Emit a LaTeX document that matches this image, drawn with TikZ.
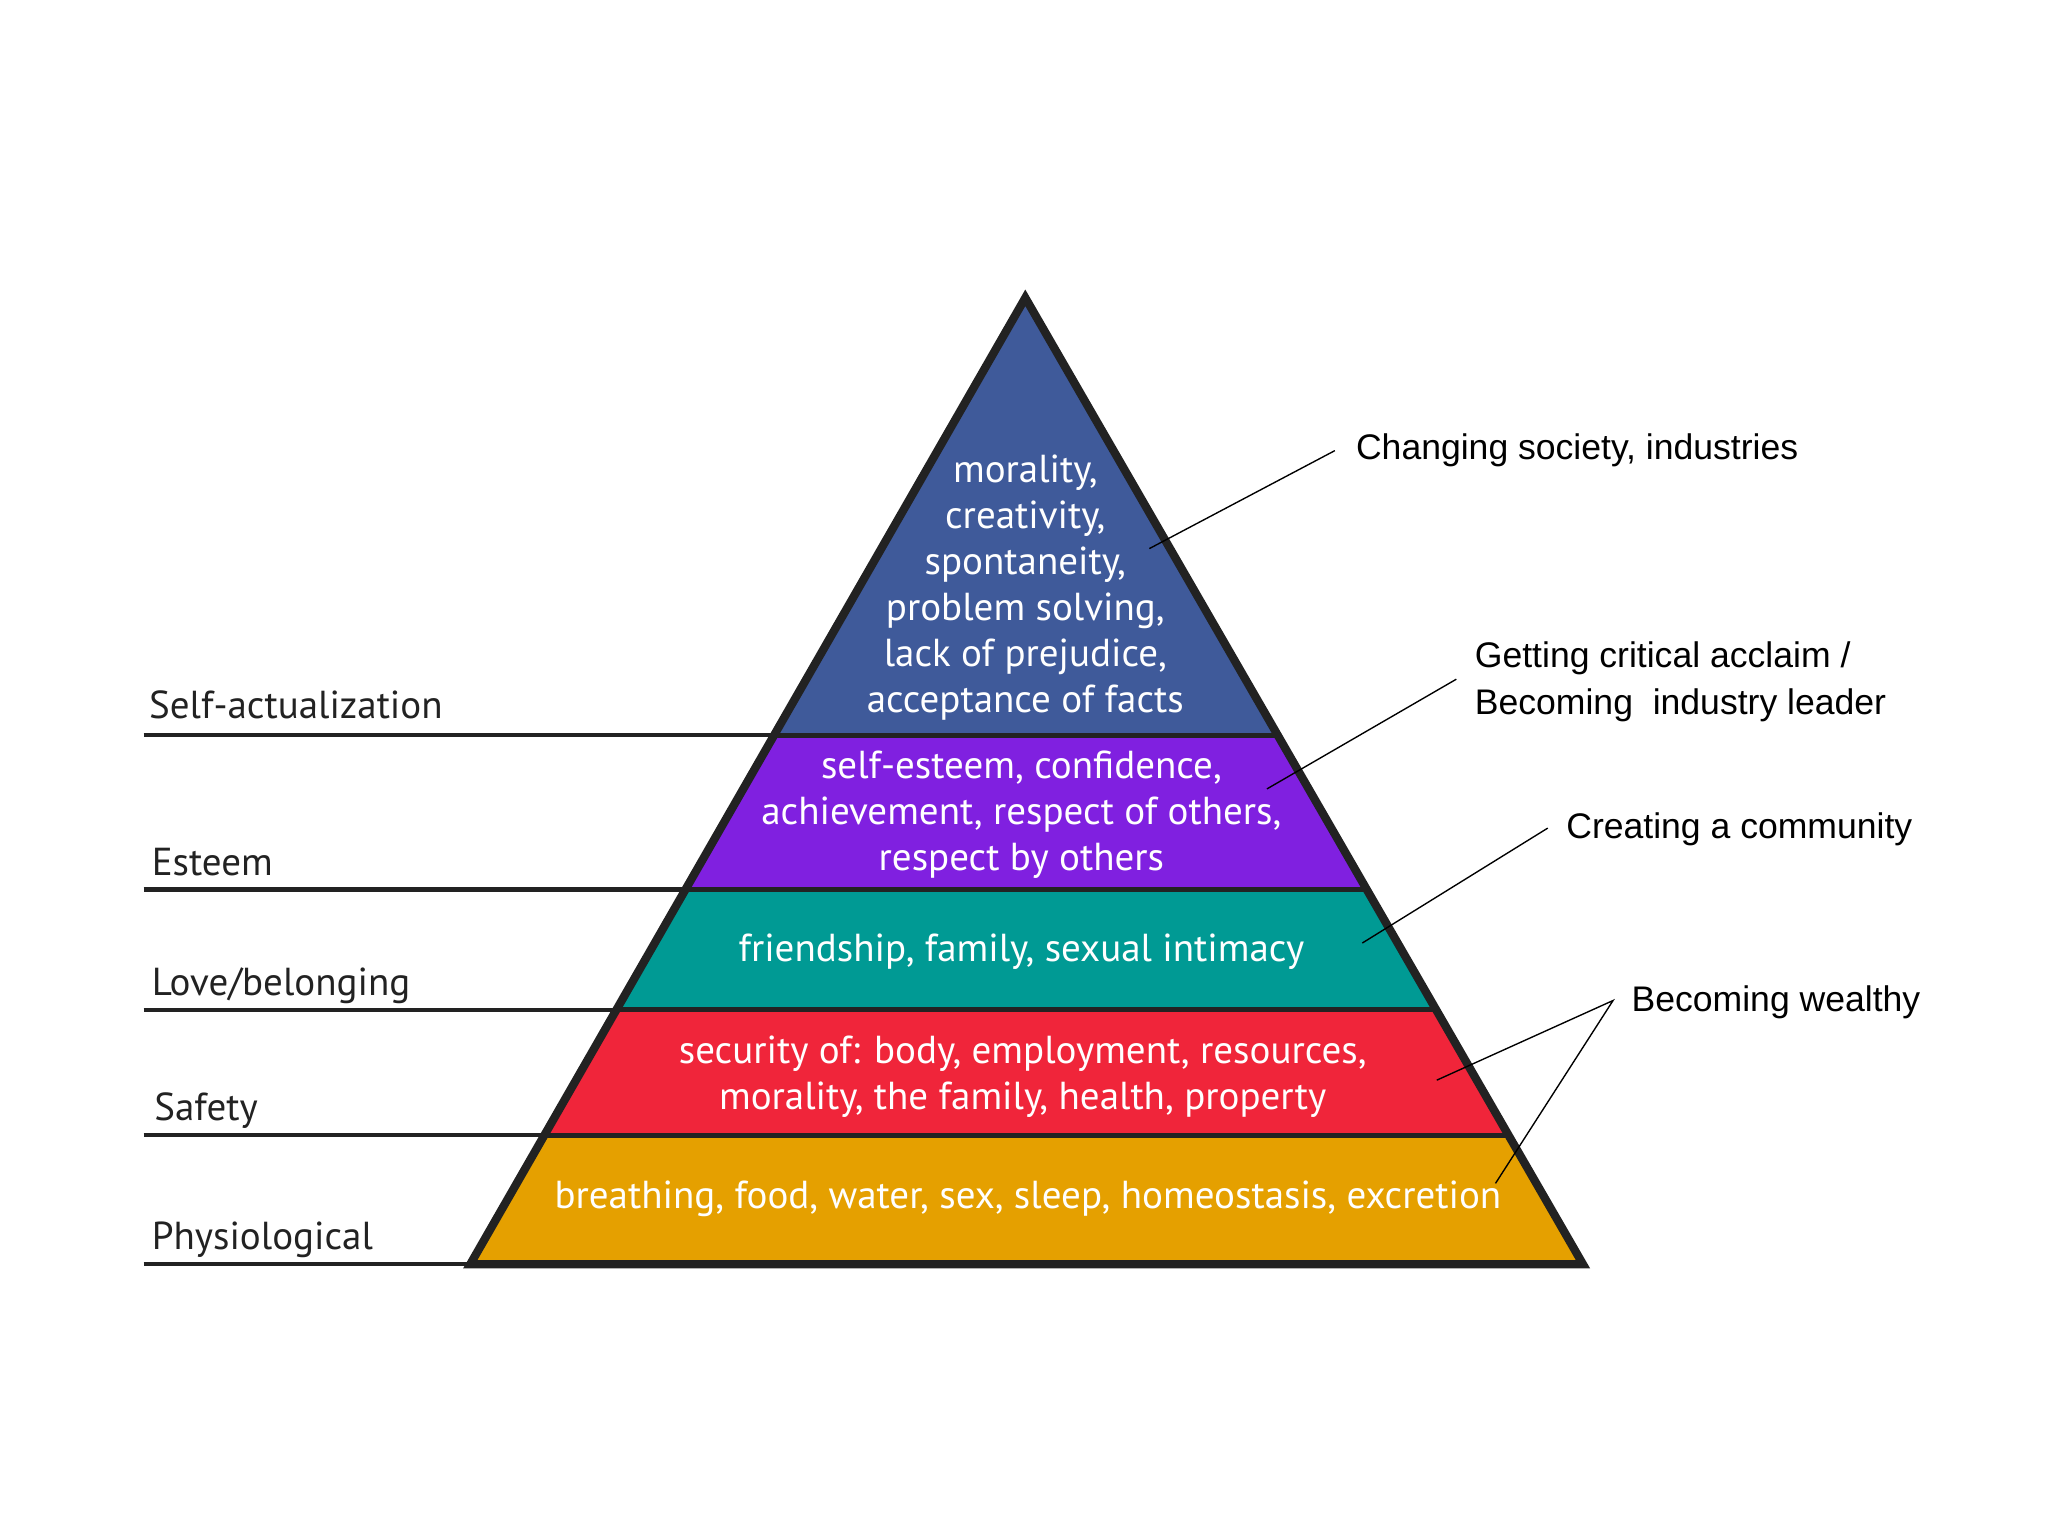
\documentclass[tikz,border=0pt]{standalone}
\usepackage{fontspec}
\setmainfont{Liberation Sans}
\newfontfamily\pyr{PT Sans}
\definecolor{cblue}{HTML}{3F5A9A}
\definecolor{cpurp}{HTML}{8020E0}
\definecolor{cteal}{HTML}{009A94}
\definecolor{cred}{HTML}{F0253A}
\definecolor{corange}{HTML}{E5A000}
\definecolor{dk}{HTML}{222222}
\begin{document}
\begin{tikzpicture}[x=0.02cm,y=-0.02cm,
  band/.style={draw=dk,line width=2.2pt},
  intext/.style={text=white,font=\pyr\fontsize{17}{20}\selectfont,align=center},
  lvl/.style={anchor=base west,text=dk,font=\pyr\fontsize{17}{20}\selectfont},
  ann/.style={anchor=west,font=\fontsize{15.5}{20.5}\selectfont,align=left},
  lead/.style={line width=0.6pt}]
\useasboundingbox (0,0) rectangle (1568,1176);
\coordinate (A) at (785,228);
\coordinate (L1) at (593,563); \coordinate (R1) at (978,563);
\coordinate (L2) at (525,681); \coordinate (R2) at (1046,681);
\coordinate (L3) at (472,773); \coordinate (R3) at (1100,773);
\coordinate (L4) at (417,869); \coordinate (R4) at (1155,869);
\coordinate (L5) at (360,968); \coordinate (R5) at (1212,968);
\fill[cblue] (A)--(R1)--(L1)--cycle;
\fill[cpurp] (L1)--(R1)--(R2)--(L2)--cycle;
\fill[cteal] (L2)--(R2)--(R3)--(L3)--cycle;
\fill[cred] (L3)--(R3)--(R4)--(L4)--cycle;
\fill[corange] (L4)--(R4)--(R5)--(L5)--cycle;
\draw[band] (L1)--(R1) (L2)--(R2) (L3)--(R3) (L4)--(R4);
\draw[draw=dk,line width=3.6pt,line join=miter] (A)--(R5)--(L5)--cycle;
% level lines
\foreach \n/\y/\lx in {a/563/593,b/681/525,c/773/472,d/869/417,e/968/360}{
  \coordinate (s\n) at (110,\y); \coordinate (t\n) at (\lx,\y);
  \draw[dk,line width=1.8pt] (s\n)--(t\n);}
\node[lvl] (l1) at (108,550) {Self-actualization};
\node[lvl] (l2) at (110,670) {Esteem};
\node[lvl] (l3) at (110,762) {Love/belonging};
\node[lvl] (l4) at (112,858) {Safety};
\node[lvl] (l5) at (110,957) {Physiological};
% inner texts
\node[intext] (t1) at (785,450) {morality,\\creativity,\\spontaneity,\\problem solving,\\lack of prejudice,\\acceptance of facts};
\node[intext] (t2) at (782,624) {self-esteem, confidence,\\achievement, respect of others,\\respect by others};
\node[intext] (t3) at (782,729) {friendship, family, sexual intimacy};
\node[intext] (t4) at (783,824) {security of: body, employment, resources,\\morality, the family, health, property};
\node[intext] (t5) at (787,918) {breathing, food, water, sex, sleep, homeostasis, excretion};
% annotations
\node[ann] (n1) at (1032,345) {Changing society, industries};
\node[ann] (n2) at (1123,522) {Getting critical acclaim /\\Becoming\ \ industry leader};
\node[ann] (n3) at (1193,635) {Creating a community};
\node[ann] (n4) at (1243,767) {Becoming wealthy};
\coordinate (p1) at (880,420); \coordinate (q1) at (1022,345);
\coordinate (p2) at (970,604); \coordinate (q2) at (1115,520);
\coordinate (p3) at (1043,722); \coordinate (q3) at (1185,634);
\coordinate (p4) at (1100,827); \coordinate (p5) at (1145,906); \coordinate (q4) at (1235,766);
\draw[lead] (p1)--(q1) (p2)--(q2) (p3)--(q3) (p4)--(q4)--(p5);
\end{tikzpicture}
\end{document}
